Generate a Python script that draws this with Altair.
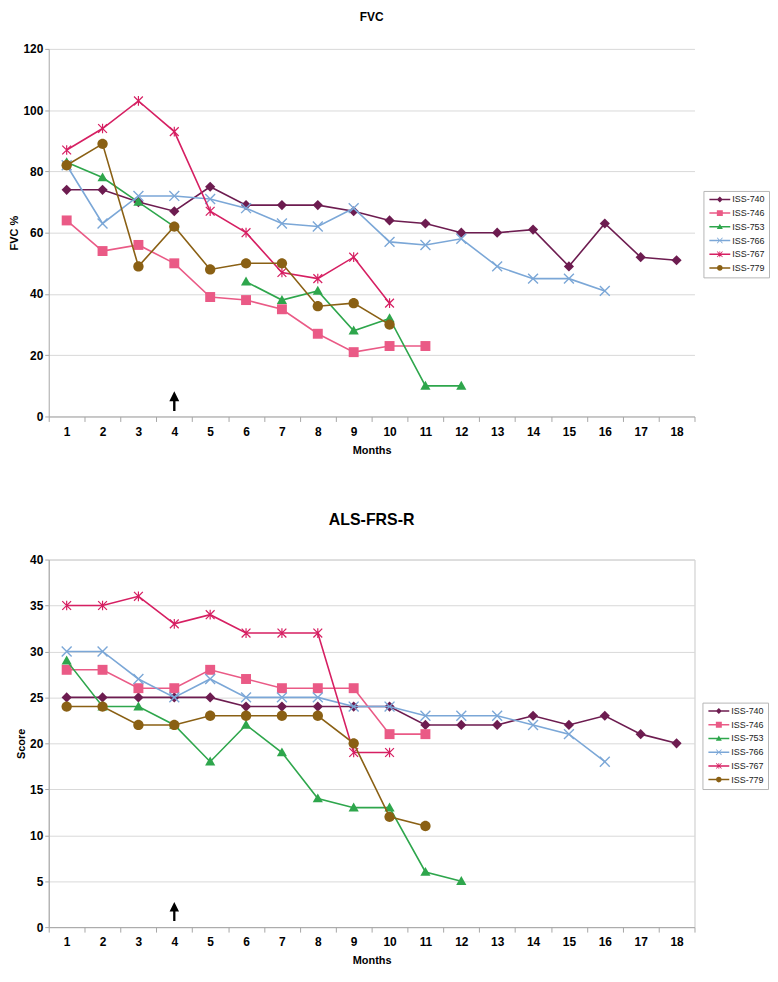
import altair as alt
import pandas as pd

# ---------------- data ----------------
months = list(range(1, 19))
series_names = ["ISS-740", "ISS-746", "ISS-753", "ISS-766", "ISS-767", "ISS-779"]
series_colors = ["#6d1c50", "#ea5a86", "#2ea64c", "#7ba7d7", "#d61f62", "#8a6014"]

fvc_740 = [74, 74, 70, 67, 75, 69, 69, 69, 67, 64, 63, 60, 60, 61, 49, 63, 52, 51]
fvc_746 = [64, 54, 56, 50, 39, 38, 35, 27, 21, 23, 23]
fvc_753 = [83, 78, 70, 62, None, 44, 38, 41, 28, 32, 10, 10]
fvc_766 = [82, 63, 72, 72, 71, 68, 63, 62, 68, 57, 56, 58, 49, 45, 45, 41]
fvc_767 = [87, 94, 103, 93, 67, 60, 47, 45, 52, 37]
fvc_779 = [82, 89, 49, 62, 48, 50, 50, 36, 37, 30]

als_740 = [25, 25, 25, 25, 25, 24, 24, 24, 24, 24, 22, 22, 22, 23, 22, 23, 21, 20]
als_746 = [28, 28, 26, 26, 28, 27, 26, 26, 26, 21, 21]
als_753 = [29, 24, 24, 22, 18, 22, 19, 14, 13, 13, 6, 5]
als_766 = [30, 30, 27, 25, 27, 25, 25, 25, 24, 24, 23, 23, 23, 22, 21, 18]
als_767 = [35, 35, 36, 33, 34, 32, 32, 32, 19, 19]
als_779 = [24, 24, 22, 22, 23, 23, 23, 23, 20, 12, 11]

fvc_ticks = [0, 20, 40, 60, 80, 100, 120]
als_ticks = [0, 5, 10, 15, 20, 25, 30, 35, 40]

arrow_month = [4]
arrow_fvc = [5.0]
arrow_als = [1.7]

# ---------------- styling ----------------
FONT = "Liberation Sans"

X_PATH = ("M-0.82,-1L1,0.82L0.82,1L-1,-0.82Z"
          "M1,-0.82L-0.82,1L-1,0.82L0.82,-1Z")
STAR_PATH = X_PATH + "M-0.12,-1L0.12,-1L0.12,1L-0.12,1Z"
CIRCLE_PATH = "M-0.95,0A0.95,0.95 0 1,1 0.95,0A0.95,0.95 0 1,1 -0.95,0Z"
marker_paths = [
    "M0,-1L1,0L0,1L-1,0Z",
    "M-1,-1L1,-1L1,1L-1,1Z",
    "M0,-1L1,0.75L-1,0.75Z",
    X_PATH,
    STAR_PATH,
    CIRCLE_PATH,
]
marker_sizes = [105, 100, 105, 120, 95, 120]
LINE_PATH = "M-3.5,-0.25L3.5,-0.25L3.5,0.25L-3.5,0.25Z"
legend_paths = [LINE_PATH + p for p in marker_paths]
ARROW_PATH = "M0,-1L0.5,0L0.12,0L0.12,1L-0.12,1L-0.12,0L-0.5,0Z"


def long_frame(values_by_series):
    rows = []
    for name, vals in zip(series_names, values_by_series):
        seg = 0
        for m, v in zip(months, vals):
            if v is None:
                seg += 1
                continue
            rows.append({"month": m, "value": v, "series": name,
                         "segment": f"{name}-{seg}"})
    return pd.DataFrame(rows)


def make_panel(df, title, title_size, title_offset, ytitle, yticks, width,
               height, arrow_y, arrow_size, legend_x, legend_y, frame):
    xenc = alt.X("month:O", title="Months",
                 scale=alt.Scale(type="band", domain=months,
                                 paddingInner=0, paddingOuter=0),
                 axis=alt.Axis(labelAngle=0, tickBand="extent", grid=False,
                               tickSize=5, labelPadding=5, titlePadding=7))
    yenc = alt.Y("value:Q", title=ytitle,
                 scale=alt.Scale(domain=[yticks[0], yticks[-1]], nice=False),
                 axis=alt.Axis(values=yticks, grid=True, tickSize=4,
                               labelPadding=2, titlePadding=3))
    layers = []
    for i, name in enumerate(series_names):
        sub = alt.Chart(df).transform_filter(alt.datum.series == name)
        layers.append(sub.mark_line(strokeWidth=1.6, color=series_colors[i]).encode(
            x=xenc, y=yenc, detail="segment:N"))
        layers.append(sub.mark_point(filled=True, opacity=1,
                                     color=series_colors[i],
                                     shape=marker_paths[i],
                                     size=marker_sizes[i]).encode(
            x=xenc, y=yenc))
    arrow_df = pd.DataFrame({"month": arrow_month, "value": arrow_y})
    layers.append(alt.Chart(arrow_df).mark_point(
        filled=True, opacity=1, color="black", shape=ARROW_PATH,
        size=arrow_size).encode(x=xenc, y=yenc))
    # legend-only layer (draws no marks)
    layers.append(alt.Chart(df).transform_filter("false").mark_point(
        filled=True, opacity=1).encode(
        color=alt.Color("series:N",
                        scale=alt.Scale(domain=series_names, range=series_colors),
                        legend=alt.Legend(
                            title=None, orient="none",
                            legendX=legend_x, legendY=legend_y,
                            symbolSize=36, symbolStrokeWidth=0,
                            symbolOffset=8, labelOffset=8,
                            labelFont=FONT, labelFontSize=9,
                            labelColor="#222222", rowPadding=3.8,
                            padding=4, strokeColor="#b5b5b5",
                            fillColor="white")),
        shape=alt.Shape("series:N",
                        scale=alt.Scale(domain=series_names, range=legend_paths))))
    view = alt.ViewConfig(stroke="#c8c8c8") if frame else alt.ViewConfig(stroke=None)
    return alt.layer(*layers).properties(
        width=width, height=height,
        title=alt.Title(title, fontSize=title_size, font=FONT,
                        fontWeight="bold", color="black",
                        offset=title_offset),
        view=view)


fvc_df = long_frame([fvc_740, fvc_746, fvc_753, fvc_766, fvc_767, fvc_779])
als_df = long_frame([als_740, als_746, als_753, als_766, als_767, als_779])

W = 650
top = make_panel(fvc_df, "FVC", 12, 19, "FVC %", fvc_ticks, W, 370,
                 arrow_fvc, 400, W + 9, 143, False)
bottom = make_panel(als_df, "ALS-FRS-R", 16, 26, "Score", als_ticks, W, 370,
                    arrow_als, 361, W + 8, 144, True)

chart = alt.vconcat(top, bottom, spacing=56).resolve_scale(
    color="independent", shape="independent"
).resolve_legend(
    color="independent", shape="independent"
).properties(
    padding=0
).configure_axis(
    labelFont=FONT, labelFontSize=12, labelFontWeight="bold",
    labelColor="black", titleFont=FONT, titleFontSize=11,
    titleFontWeight="bold", titleColor="black",
    domainColor="#a6a6a6", tickColor="#a6a6a6", gridColor="#d9d9d9"
).configure_title(anchor="middle")

chart.save("out.html", embed_options={"renderer": "svg", "actions": False})
